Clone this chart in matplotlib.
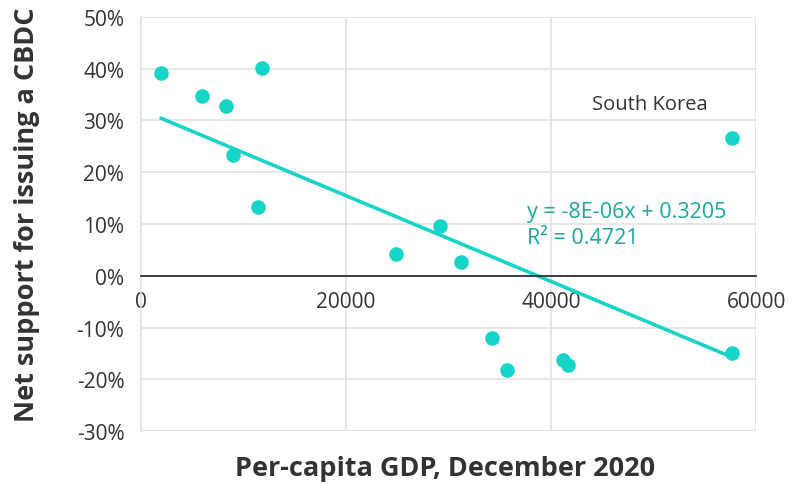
import numpy as np
import matplotlib
matplotlib.use("Agg")
import matplotlib.pyplot as plt
from matplotlib.ticker import FuncFormatter, MultipleLocator

plt.rcParams['font.family'] = ['Open Sans', 'DejaVu Sans']

# per-capita GDP (USD) and net support for a CBDC
gdp = [1950, 5940, 8280, 8960, 11780, 11390, 24830, 29110, 31160,
       34180, 35640, 41190, 41680, 57640, 57640]
support = [0.391, 0.347, 0.328, 0.234, 0.401, 0.132, 0.043, 0.097, 0.027,
           -0.120, -0.182, -0.163, -0.172, 0.267, -0.149]

teal = '#17D4C8'
teal_text = '#1BA69D'
grid_col = '#E3E3E3'
txt_col = '#333333'

fig = plt.figure(figsize=(7.92, 4.85), dpi=100)
ax = fig.add_axes([0.178, 0.109, 0.777, 0.854])

ax.scatter(gdp, support, s=110, color=teal, zorder=3, linewidths=0)

# linear trendline
slope, icpt = np.polyfit(gdp, support, 1)
xs = np.array([min(gdp), max(gdp)])
ax.plot(xs, slope * xs + icpt, color=teal, lw=2.6, zorder=2, solid_capstyle='round')

ax.set_xlim(0, 60000)
ax.set_ylim(-0.30, 0.50)
ax.xaxis.set_major_locator(MultipleLocator(20000))
ax.yaxis.set_major_locator(MultipleLocator(0.10))
ax.yaxis.set_major_formatter(FuncFormatter(lambda v, p: '{:.0f}%'.format(v * 100)))

ax.grid(True, color=grid_col, lw=1.2, zorder=0)
for s in ['top', 'right']:
    ax.spines[s].set_visible(False)
ax.spines['left'].set_color(grid_col)
ax.spines['left'].set_linewidth(1.2)
ax.spines['bottom'].set_position(('data', 0))
ax.spines['bottom'].set_color('#222222')
ax.spines['bottom'].set_linewidth(1.2)
ax.spines['bottom'].set_zorder(2.5)
ax.axhline(-0.30, color=grid_col, lw=1.5, zorder=0)

ax.tick_params(axis='both', length=0, labelsize=15, colors=txt_col)
ax.tick_params(axis='x', pad=11)
ax.tick_params(axis='y', pad=12)

ax.set_xlabel('Per-capita GDP, December 2020', fontsize=19.5, fontweight='bold',
              color=txt_col)
ax.xaxis.set_label_coords(0.494, -0.057)
ax.set_ylabel('Net support for issuing a CBDC', fontsize=19.5, fontweight='bold',
              color=txt_col, va='center')
ax.yaxis.set_label_coords(-0.185, 0.524)

ax.text(49660, 0.331, 'South Korea', fontsize=14.5, color=txt_col, ha='center', va='center')
ax.text(37650, 0.124, 'y = -8E-06x + 0.3205', fontsize=15.5, color=teal_text, va='center')
ax.text(37650, 0.074, 'R\u00b2 = 0.4721', fontsize=15.5, color=teal_text, va='center')

fig.savefig('out.png', dpi=100)
